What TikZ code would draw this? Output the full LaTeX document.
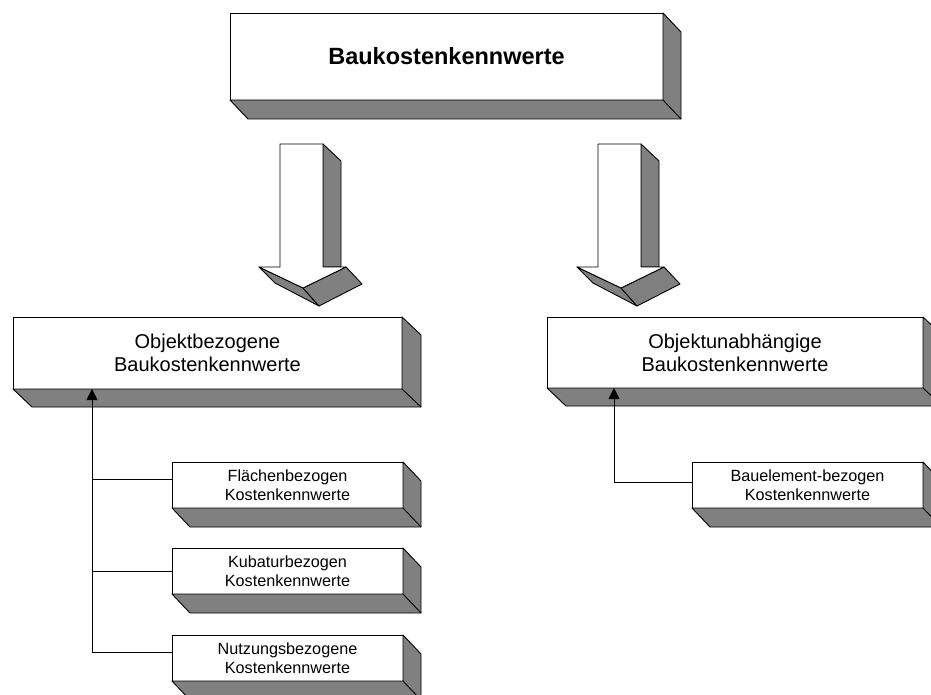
\documentclass[tikz,border=0pt]{standalone}
\usepackage{fontspec}
\setmainfont{Liberation Sans}
\usetikzlibrary{calc,arrows.meta}
\definecolor{sidegray}{HTML}{808080}

% grey extrusion (bottom and right faces) behind a named front face
\newcommand\extrudeslab[3]{%
  \filldraw[side] (#1.south west) -- ++(#2,#3) -- ($(#1.south east)+(#2,#3)$)
    -- ($(#1.north east)+(#2,#3)$) -- (#1.north east) -- (#1.south east) -- cycle;
  \draw[side] (#1.south east) -- ++(#2,#3);}

% hollow 3D block arrow pointing down
\newcommand\downblockarrow{%
  \filldraw[side] (323,144) -- (341,161) -- (341,267) -- (323,267) -- cycle;
  \filldraw[side] (259,267) -- (275,283) -- (319,306) -- (303,288) -- cycle;
  \filldraw[side] (303,288) -- (346,267) -- (362,284) -- (319,306) -- cycle;
  \filldraw[face] (280,144) -- (323,144) -- (323,267) -- (346,267)
    -- (303,288) -- (259,267) -- (280,267) -- cycle;}

\begin{document}
\begin{tikzpicture}[x=1pt,y=-1pt,
  face/.style={draw=black, fill=white, line width=0.9pt, line join=round},
  side/.style={draw=black, fill=sidegray, line width=0.9pt, line join=round},
  card/.style={face, inner sep=0pt, outer sep=0pt, align=center},
  bigtext/.style={font=\fontsize{23.5}{28}\selectfont\bfseries},
  midtext/.style={font=\fontsize{20}{23}\selectfont},
  smalltext/.style={font=\fontsize{16.2}{19}\selectfont},
  link/.style={draw=black, line width=0.8pt},
  tip/.style={-{Triangle[length=11pt,width=11pt]}}
]
\clip (0,0) rectangle (931,695);
\fill[white] (0,0) rectangle (931,695);

% main heading
\node[card, bigtext, minimum width=433pt, minimum height=87pt] (top) at (446.5,56.5) {Baukostenkennwerte};
\extrudeslab{top}{18}{19}

% block arrows
\downblockarrow
\begin{scope}[shift={(318,0)}]
  \downblockarrow
\end{scope}

% second level
\node[card, midtext, minimum width=389pt, minimum height=72pt] (objB) at (207.5,353)
  {Objektbezogene\\Baukostenkennwerte};
\extrudeslab{objB}{19}{18}
\node[card, midtext, minimum width=376pt, minimum height=71pt] (objU) at (735,352.5)
  {Objektunabhängige\\Baukostenkennwerte};
\extrudeslab{objU}{19}{18}

% third level
\node[card, smalltext, minimum width=231pt, minimum height=46pt] (flaech) at (287.5,485)
  {Flächenbezogen\\Kostenkennwerte};
\extrudeslab{flaech}{18}{19}
\node[card, smalltext, minimum width=231pt, minimum height=46pt] (kubatur) at (287.5,571)
  {Kubaturbezogen\\Kostenkennwerte};
\extrudeslab{kubatur}{18}{19}
\node[card, smalltext, minimum width=231pt, minimum height=46pt] (nutzung) at (287.5,658)
  {Nutzungsbezogene\\Kostenkennwerte};
\extrudeslab{nutzung}{18}{19}
\node[card, smalltext, minimum width=231pt, minimum height=46pt] (bauel) at (807.5,485)
  {Bauelement-bezogen\\Kostenkennwerte};
\extrudeslab{bauel}{18}{19}

% connectors
\coordinate (trunkL) at (92,0);
\coordinate (trunkR) at (614,0);
\coordinate (b1) at ([yshift=6pt]flaech.west);
\coordinate (b2) at (kubatur.west);
\coordinate (b3) at ([yshift=6pt]nutzung.west);
\coordinate (b4) at ([yshift=3pt]bauel.west);
\draw[link] (b1) -- (b1 -| trunkL);
\draw[link] (b2) -- (b2 -| trunkL);
\draw[link] (b3) -- (b3 -| trunkL);
\draw[link,tip] (b3 -| trunkL) -- (trunkL |- objB.south);
\draw[link,tip] (b4) -| (trunkR |- objU.south);
\end{tikzpicture}
\end{document}
